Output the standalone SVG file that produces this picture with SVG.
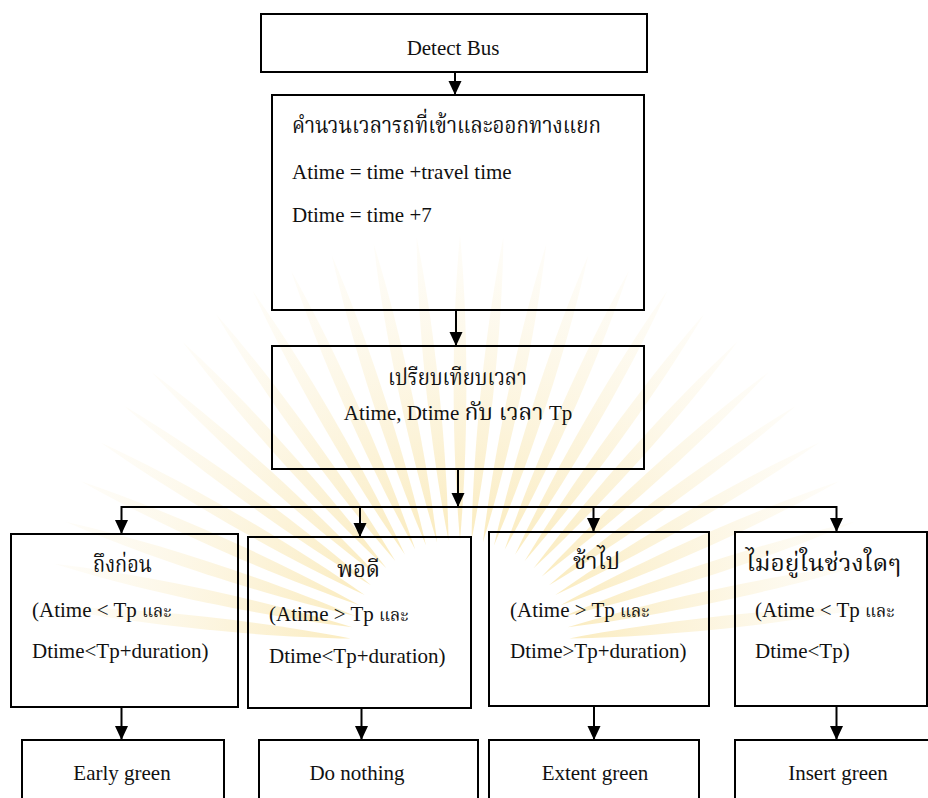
<svg xmlns="http://www.w3.org/2000/svg" xmlns:xlink="http://www.w3.org/1999/xlink" width="928" height="798" viewBox="0 0 928 798">
<style>
.box{fill:none;stroke:#000;stroke-width:2}
.t{font-family:"Liberation Serif","Times New Roman",serif;font-size:21px;fill:#111}
.th{font-family:"Noto Serif Thai","Noto Sans Thai","Tlwg Typo","Garuda","Loma","Liberation Serif",serif;font-size:23px;fill:#111}
.ths{font-family:"Noto Serif Thai","Noto Sans Thai","Loma","Liberation Serif",serif;font-size:17px}
.c{text-anchor:middle}
.ln{fill:none;stroke:#000;stroke-width:2}
</style>
<defs>
<marker id="ah" markerUnits="userSpaceOnUse" markerWidth="13" markerHeight="15" refX="14" refY="6.5" orient="auto">
<path d="M0,0 L14,6.5 L0,13 z" fill="#000"/>
</marker>
<radialGradient id="rg" gradientUnits="userSpaceOnUse" cx="0" cy="0" r="420">
<stop offset="0.25" stop-color="#f2c640" stop-opacity="0.34"/>
<stop offset="0.6" stop-color="#f3d270" stop-opacity="0.22"/>
<stop offset="1" stop-color="#f5e2a8" stop-opacity="0.07"/>
</radialGradient>
<path id="r" d="M0,-110 C-8,-200 -9,-320 0,-415 C9,-320 8,-200 0,-110 z" fill="url(#rg)"/>
</defs>
<rect width="928" height="798" fill="#fff"/>
<g id="watermark">
<use xlink:href="#r" transform="translate(460,650) rotate(-84)"/>
<use xlink:href="#r" transform="translate(460,650) rotate(-78)"/>
<use xlink:href="#r" transform="translate(460,650) rotate(-72)"/>
<use xlink:href="#r" transform="translate(460,650) rotate(-66)"/>
<use xlink:href="#r" transform="translate(460,650) rotate(-60)"/>
<use xlink:href="#r" transform="translate(460,650) rotate(-54)"/>
<use xlink:href="#r" transform="translate(460,650) rotate(-48)"/>
<use xlink:href="#r" transform="translate(460,650) rotate(-42)"/>
<use xlink:href="#r" transform="translate(460,650) rotate(-36)"/>
<use xlink:href="#r" transform="translate(460,650) rotate(-30)"/>
<use xlink:href="#r" transform="translate(460,650) rotate(-24)"/>
<use xlink:href="#r" transform="translate(460,650) rotate(-18)"/>
<use xlink:href="#r" transform="translate(460,650) rotate(-12)"/>
<use xlink:href="#r" transform="translate(460,650) rotate(-6)"/>
<use xlink:href="#r" transform="translate(460,650) rotate(0)"/>
<use xlink:href="#r" transform="translate(460,650) rotate(6)"/>
<use xlink:href="#r" transform="translate(460,650) rotate(12)"/>
<use xlink:href="#r" transform="translate(460,650) rotate(18)"/>
<use xlink:href="#r" transform="translate(460,650) rotate(24)"/>
<use xlink:href="#r" transform="translate(460,650) rotate(30)"/>
<use xlink:href="#r" transform="translate(460,650) rotate(36)"/>
<use xlink:href="#r" transform="translate(460,650) rotate(42)"/>
<use xlink:href="#r" transform="translate(460,650) rotate(48)"/>
<use xlink:href="#r" transform="translate(460,650) rotate(54)"/>
<use xlink:href="#r" transform="translate(460,650) rotate(60)"/>
<use xlink:href="#r" transform="translate(460,650) rotate(66)"/>
<use xlink:href="#r" transform="translate(460,650) rotate(72)"/>
<use xlink:href="#r" transform="translate(460,650) rotate(78)"/>
<use xlink:href="#r" transform="translate(460,650) rotate(84)"/>
</g>
<g id="connectors">
<line class="ln" x1="455" y1="72" x2="455" y2="95" marker-end="url(#ah)"/>
<line class="ln" x1="456" y1="310" x2="456" y2="346" marker-end="url(#ah)"/>
<line class="ln" x1="458" y1="469" x2="458" y2="507" marker-end="url(#ah)"/>
<line class="ln" x1="121" y1="507" x2="837" y2="507"/>
<line class="ln" x1="121.5" y1="506" x2="121.5" y2="534" marker-end="url(#ah)"/>
<line class="ln" x1="360" y1="506" x2="360" y2="537" marker-end="url(#ah)"/>
<line class="ln" x1="593.5" y1="506" x2="593.5" y2="532" marker-end="url(#ah)"/>
<line class="ln" x1="836.5" y1="506" x2="836.5" y2="532" marker-end="url(#ah)"/>
<line class="ln" x1="121.5" y1="707" x2="121.5" y2="740" marker-end="url(#ah)"/>
<line class="ln" x1="361.5" y1="708" x2="361.5" y2="740" marker-end="url(#ah)"/>
<line class="ln" x1="594" y1="706" x2="594" y2="740" marker-end="url(#ah)"/>
<line class="ln" x1="836.5" y1="706" x2="836.5" y2="740" marker-end="url(#ah)"/>
</g>
<g id="detect">
<rect class="box" x="261" y="14" width="386" height="58"/>
<text class="t c" x="453" y="55">Detect Bus</text>
</g>
<g id="calc">
<rect class="box" x="272" y="95" width="372" height="215"/>
<text class="th" x="292" y="133" textLength="309" lengthAdjust="spacingAndGlyphs">คำนวนเวลารถที่เข้าและออกทางแยก</text>
<text class="t" x="292" y="179">Atime = time +travel time</text>
<text class="t" x="292" y="222">Dtime = time +7</text>
</g>
<g id="compare">
<rect class="box" x="272" y="346" width="372" height="123"/>
<text class="th" x="388" y="385" textLength="139" lengthAdjust="spacingAndGlyphs">เปรียบเทียบเวลา</text>
<text class="t c" x="458" y="420">Atime, Dtime <tspan class="th" font-size="20">กับ เวลา</tspan> Tp</text>
</g>
<g id="early">
<rect class="box" x="11" y="534" width="227" height="173"/>
<text class="th" x="93" y="572" textLength="59" lengthAdjust="spacingAndGlyphs">ถึงก่อน</text>
<text class="t" x="32" y="617">(Atime &lt; Tp <tspan class="ths">และ</tspan></text>
<text class="t" x="32" y="658">Dtime&lt;Tp+duration)</text>
</g>
<g id="ontime">
<rect class="box" x="248" y="537" width="223" height="171"/>
<text class="th" x="337" y="577" textLength="43" lengthAdjust="spacingAndGlyphs">พอดี</text>
<text class="t" x="269" y="621">(Atime &gt; Tp <tspan class="ths">และ</tspan></text>
<text class="t" x="269" y="663">Dtime&lt;Tp+duration)</text>
</g>
<g id="late">
<rect class="box" x="489" y="532" width="220" height="174"/>
<text class="th" x="573" y="569" textLength="47" lengthAdjust="spacingAndGlyphs">ช้าไป</text>
<text class="t" x="510" y="617">(Atime &gt; Tp <tspan class="ths">และ</tspan></text>
<text class="t" x="510" y="658">Dtime&gt;Tp+duration)</text>
</g>
<g id="none">
<rect class="box" x="735" y="532" width="192" height="174"/>
<text class="th" x="746" y="571" textLength="155" lengthAdjust="spacingAndGlyphs">ไม่อยู่ในช่วงใดๆ</text>
<text class="t" x="755" y="617">(Atime &lt; Tp <tspan class="ths">และ</tspan></text>
<text class="t" x="755" y="658">Dtime&lt;Tp)</text>
</g>
<g id="earlygreen">
<rect class="box" x="22" y="740" width="202" height="80"/>
<text class="t c" x="122" y="780">Early green</text>
</g>
<g id="donothing">
<rect class="box" x="259" y="740" width="219" height="80"/>
<text class="t c" x="357" y="780">Do nothing</text>
</g>
<g id="extentgreen">
<rect class="box" x="489" y="740" width="210" height="80"/>
<text class="t c" x="595" y="780">Extent green</text>
</g>
<g id="insertgreen">
<rect class="box" x="735" y="740" width="220" height="80"/>
<text class="t c" x="838" y="780">Insert green</text>
</g>
</svg>
